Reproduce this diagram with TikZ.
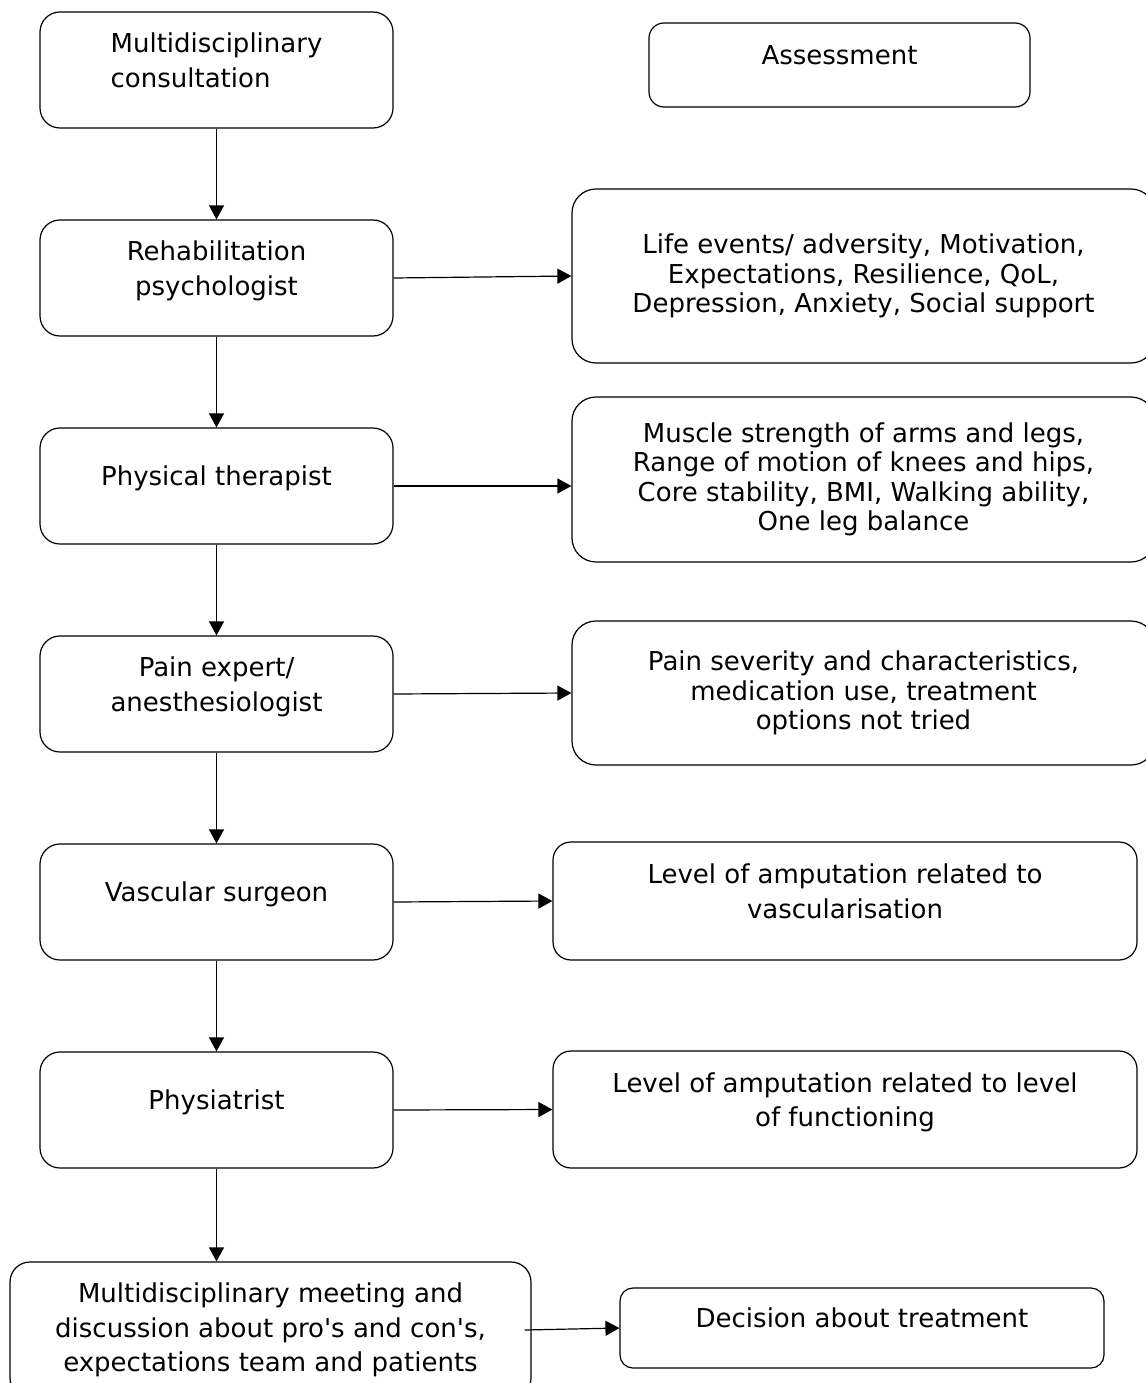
\documentclass[tikz,border=0pt]{standalone}
\usepackage{fontspec}
\setmainfont{DejaVu Sans}
\usetikzlibrary{arrows.meta,positioning}

\begin{document}
\begin{tikzpicture}[
    x=1pt, y=-1pt,
    box/.style={draw, align=center, inner sep=0pt, line width=1.2pt},
    lift/.style={execute at end node={\rule[-20pt]{0pt}{0pt}}},
    staff/.style={box, lift, rounded corners=20pt, minimum width=353pt,
                  minimum height=116pt},
    finding/.style={box, rounded corners=24pt, minimum width=583pt,
                    font=\fontsize{26}{29.5}\selectfont},
    result/.style={box, lift, rounded corners=18pt},
    arrow/.style={-{Triangle[length=14pt,width=15pt]}, line width=1.2pt},
    every node/.style={font=\fontsize{26}{34.5}\selectfont}
  ]
  \useasboundingbox (0,0) rectangle (1145,1383);

  % Left column
  \node[staff, align=left] (consult) at (216.5, 70) {Multidisciplinary\\consultation};
  \node[staff] (rehab)   at (216.5, 278)  {Rehabilitation\\psychologist};
  \node[staff] (therap)  at (216.5, 486)  {Physical therapist};
  \node[staff] (pain)    at (216.5, 694)  {Pain expert/\\anesthesiologist};
  \node[staff] (vasc)    at (216.5, 902)  {Vascular surgeon};
  \node[staff] (physia)  at (216.5, 1110) {Physiatrist};
  \node[box, rounded corners=20pt, minimum width=521pt, minimum height=136pt]
       (meeting) at (270.5, 1330)
       {Multidisciplinary meeting and\\discussion about pro\textquotesingle s and con\textquotesingle s,\\expectations team and patients};

  % Right column
  \node[result, rounded corners=15pt, minimum width=381pt, minimum height=84pt]
       (assess) at (839.5, 65) {Assessment};
  \node[finding, minimum height=174pt] (life) at (863.5, 276)
       {Life events/ adversity, Motivation,\\Expectations, Resilience, QoL,\\Depression, Anxiety, Social support};
  \node[finding, minimum height=165pt] (muscle) at (863.5, 479.5)
       {Muscle strength of arms and legs,\\Range of motion of knees and hips,\\Core stability, BMI, Walking ability,\\One leg balance};
  \node[finding, minimum height=144pt] (painsev) at (863.5, 693)
       {Pain severity and characteristics,\\medication use, treatment\\options not tried};
  \node[result, minimum width=584pt, minimum height=118pt] (levvasc) at (845, 901)
       {Level of amputation related to\\vascularisation};
  \node[result, minimum width=584pt, minimum height=117pt] (levfunc) at (845, 1109.5)
       {Level of amputation related to level\\of functioning};
  \node[result, rounded corners=13pt, minimum width=484pt, minimum height=80pt]
       (decision) at (862, 1328) {Decision about treatment};

  % Down the consultation chain
  \draw[arrow] (consult.south) -- (rehab.north);
  \draw[arrow] (rehab.south) -- (therap.north);
  \draw[arrow] (therap.south) -- (pain.north);
  \draw[arrow] (pain.south) -- (vasc.north);
  \draw[arrow] (vasc.south) -- (physia.north);
  \draw[arrow] (physia.south) -- (physia.south |- meeting.north);

  % Each expert -> what is assessed
  \draw[arrow] (rehab.east) -- (life.west);
  \draw[arrow] (therap.east) -- (muscle.west |- therap.east);
  \draw[arrow] (pain.east) -- (painsev.west);
  \draw[arrow] (vasc.east) -- (levvasc.west);
  \draw[arrow] (physia.east) -- (levfunc.west);
  \draw[arrow] ([xshift=-7pt]meeting.east) -- (decision.west);
\end{tikzpicture}
\end{document}
